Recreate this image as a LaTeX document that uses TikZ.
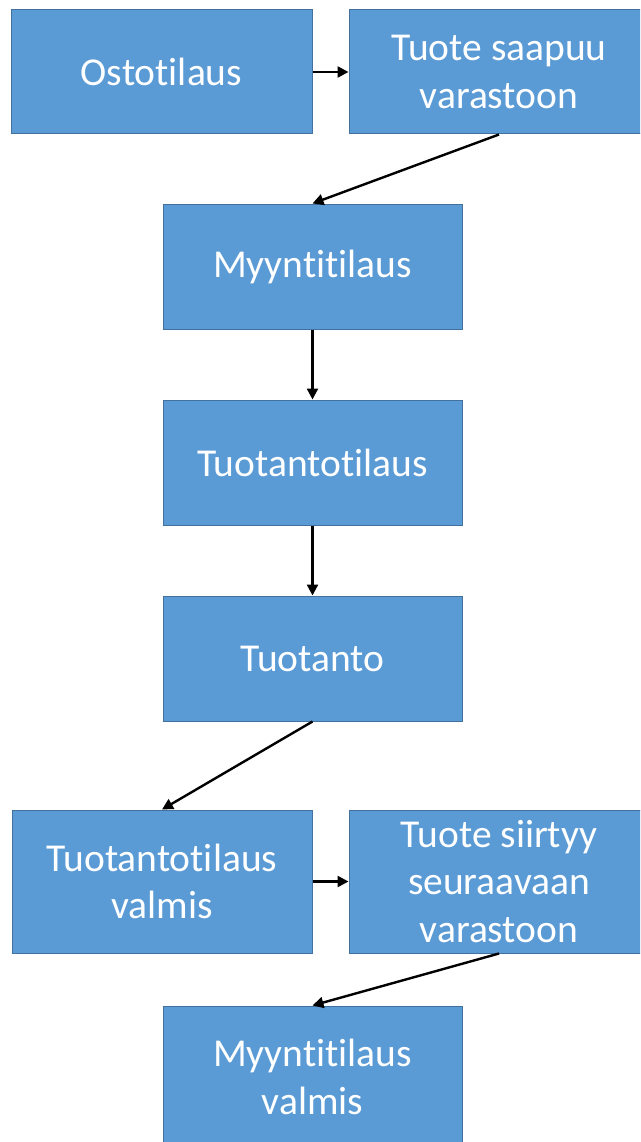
\documentclass[tikz,border=0pt]{standalone}
\usepackage{fontspec}
\setmainfont[Ligatures=NoCommon]{Carlito}
\usetikzlibrary{arrows.meta}
\definecolor{boxfill}{HTML}{5B9BD5}
\definecolor{boxline}{HTML}{41719C}
\tikzset{
  flowbox/.style={draw=boxline, line width=1pt, fill=boxfill, text=white,
    align=center, inner sep=0pt, font=\fontsize{39.5}{47.5}\selectfont},
  flowarrow/.style={line width=2.4pt, -{Triangle[length=11pt,width=11pt]}}
}
\begin{document}
\begin{tikzpicture}[x=1pt,y=-1pt]
\useasboundingbox (0,0) rectangle (640,1142);
\clip (0,0) rectangle (640,1142);
\node[flowbox, minimum width=301pt, minimum height=124pt] (o1) at (161.5,72) {Ostotilaus};
\node[flowbox, minimum width=300pt, minimum height=124pt] (o2) at (499,72) {Tuote saapuu\\varastoon};
\node[flowbox, minimum width=299pt, minimum height=125pt] (m1) at (312.5,266.5) {Myyntitilaus};
\node[flowbox, minimum width=299pt, minimum height=125pt] (t1) at (312.5,462.5) {Tuotantotilaus};
\node[flowbox, minimum width=299pt, minimum height=125pt] (t2) at (312.5,658.5) {Tuotanto};
\node[flowbox, minimum width=300pt, minimum height=143pt] (tv) at (162,881.5) {Tuotantotilaus\\valmis};
\node[flowbox, minimum width=300pt, minimum height=143pt] (ts) at (499,881.5) {Tuote siirtyy\\seuraavaan\\varastoon};
\node[flowbox, minimum width=299pt, minimum height=142pt] (mv) at (312.5,1077) {Myyntitilaus\\valmis};
\draw[flowarrow] (o1.east) -- (o2.west);
\draw[flowarrow] (o2.south) -- (m1.north);
\draw[flowarrow] (m1.south) -- (t1.north);
\draw[flowarrow] (t1.south) -- (t2.north);
\draw[flowarrow] (t2.south) -- (tv.north);
\draw[flowarrow] (tv.east) -- (ts.west);
\draw[flowarrow] (ts.south) -- (mv.north);
\end{tikzpicture}
\end{document}
